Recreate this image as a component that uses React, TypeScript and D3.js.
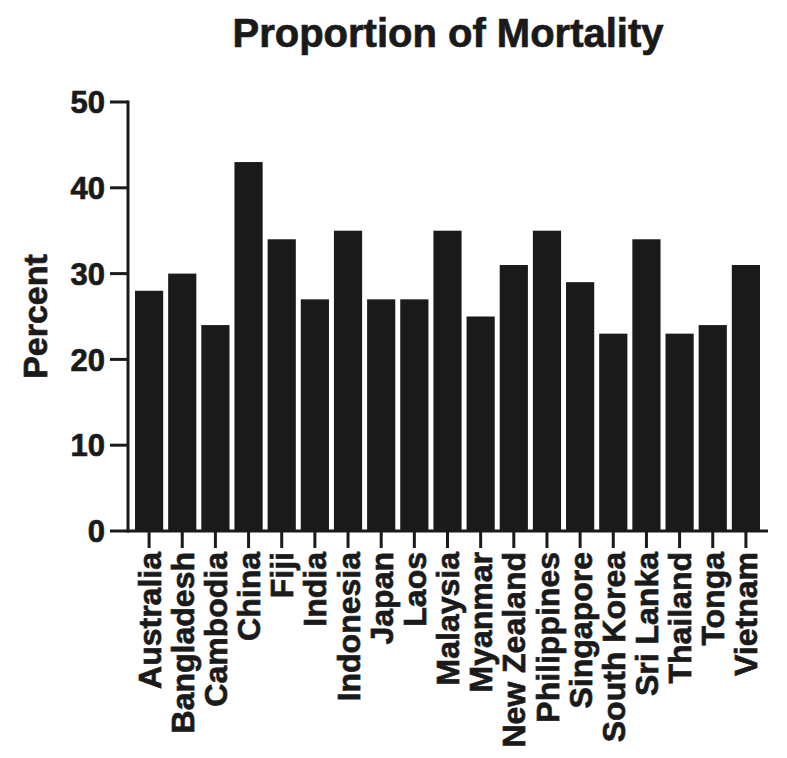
import React from "react";
import * as d3 from "d3";

const countries = [
  "Australia", "Bangladesh", "Cambodia", "China", "Fiji", "India", "Indonesia",
  "Japan", "Laos", "Malaysia", "Myanmar", "New Zealand", "Philippines",
  "Singapore", "South Korea", "Sri Lanka", "Thailand", "Tonga", "Vietnam",
];
const percents = [28, 30, 24, 43, 34, 27, 35, 27, 27, 35, 25, 31, 35, 29, 23, 34, 23, 24, 31];
const yTicks = [0, 10, 20, 30, 40, 50];
const title = "Proportion of Mortality";
const yLabel = "Percent";

const W = 787;
const H = 758;
const axisLeft = 128;
const axisRight = 768;
const yTop = 102;
const yBottom = 531;
const ink = "#1a1a1a";
const font = "'Liberation Sans', Arial, Helvetica, sans-serif";
const textStroke = { stroke: ink, strokeWidth: 0.7 };

export default function App() {
  const x = d3.scaleBand<string>().domain(countries).range([135, 760]).paddingInner(0.15).paddingOuter(0);
  const y = d3.scaleLinear().domain([0, 50]).range([yBottom, yTop]);

  return (
    <svg width={W} height={H} style={{ position: "absolute", left: 0, top: 0 }} fontFamily={font}>
      <rect width={W} height={H} fill="#fff" />
      <text x={(axisLeft + axisRight) / 2} y={47} textAnchor="middle" fontSize={40} fontWeight="bold" fill={ink} {...textStroke}>
        {title}
      </text>
      {countries.map((c, i) => (
        <rect key={c} x={x(c)} y={y(percents[i])} width={x.bandwidth()} height={y(0) - y(percents[i])} fill={ink} />
      ))}
      {/* y axis */}
      <line x1={axisLeft} x2={axisLeft} y1={yTop - 1.5} y2={yBottom + 1.5} stroke={ink} strokeWidth={3} />
      {yTicks.map((t) => (
        <g key={t}>
          <line x1={axisLeft - 18} x2={axisLeft} y1={y(t)} y2={y(t)} stroke={ink} strokeWidth={3} />
          <text x={105} y={y(t)} dy="0.36em" textAnchor="end" fontSize={31} fontWeight="bold" fill={ink} {...textStroke}>
            {t}
          </text>
        </g>
      ))}
      {/* x axis */}
      <line x1={axisLeft} x2={axisRight} y1={yBottom} y2={yBottom} stroke={ink} strokeWidth={3} />
      {countries.map((c) => {
        const cx = (x(c) as number) + x.bandwidth() / 2;
        return (
          <g key={c}>
            <line x1={cx} x2={cx} y1={yBottom} y2={yBottom + 17} stroke={ink} strokeWidth={3} />
            <text
              transform={`translate(${cx},${yBottom + 21}) rotate(-90)`}
              dy="0.36em"
              textAnchor="end"
              fontSize={32}
              fontWeight="bold"
              fill={ink}
              {...textStroke}
            >
              {c}
            </text>
          </g>
        );
      })}
      <text
        transform={`translate(47,${(yTop + yBottom) / 2}) rotate(-90)`}
        textAnchor="middle"
        fontSize={34}
        fontWeight="bold"
        fill={ink}
        {...textStroke}
      >
        {yLabel}
      </text>
    </svg>
  );
}
